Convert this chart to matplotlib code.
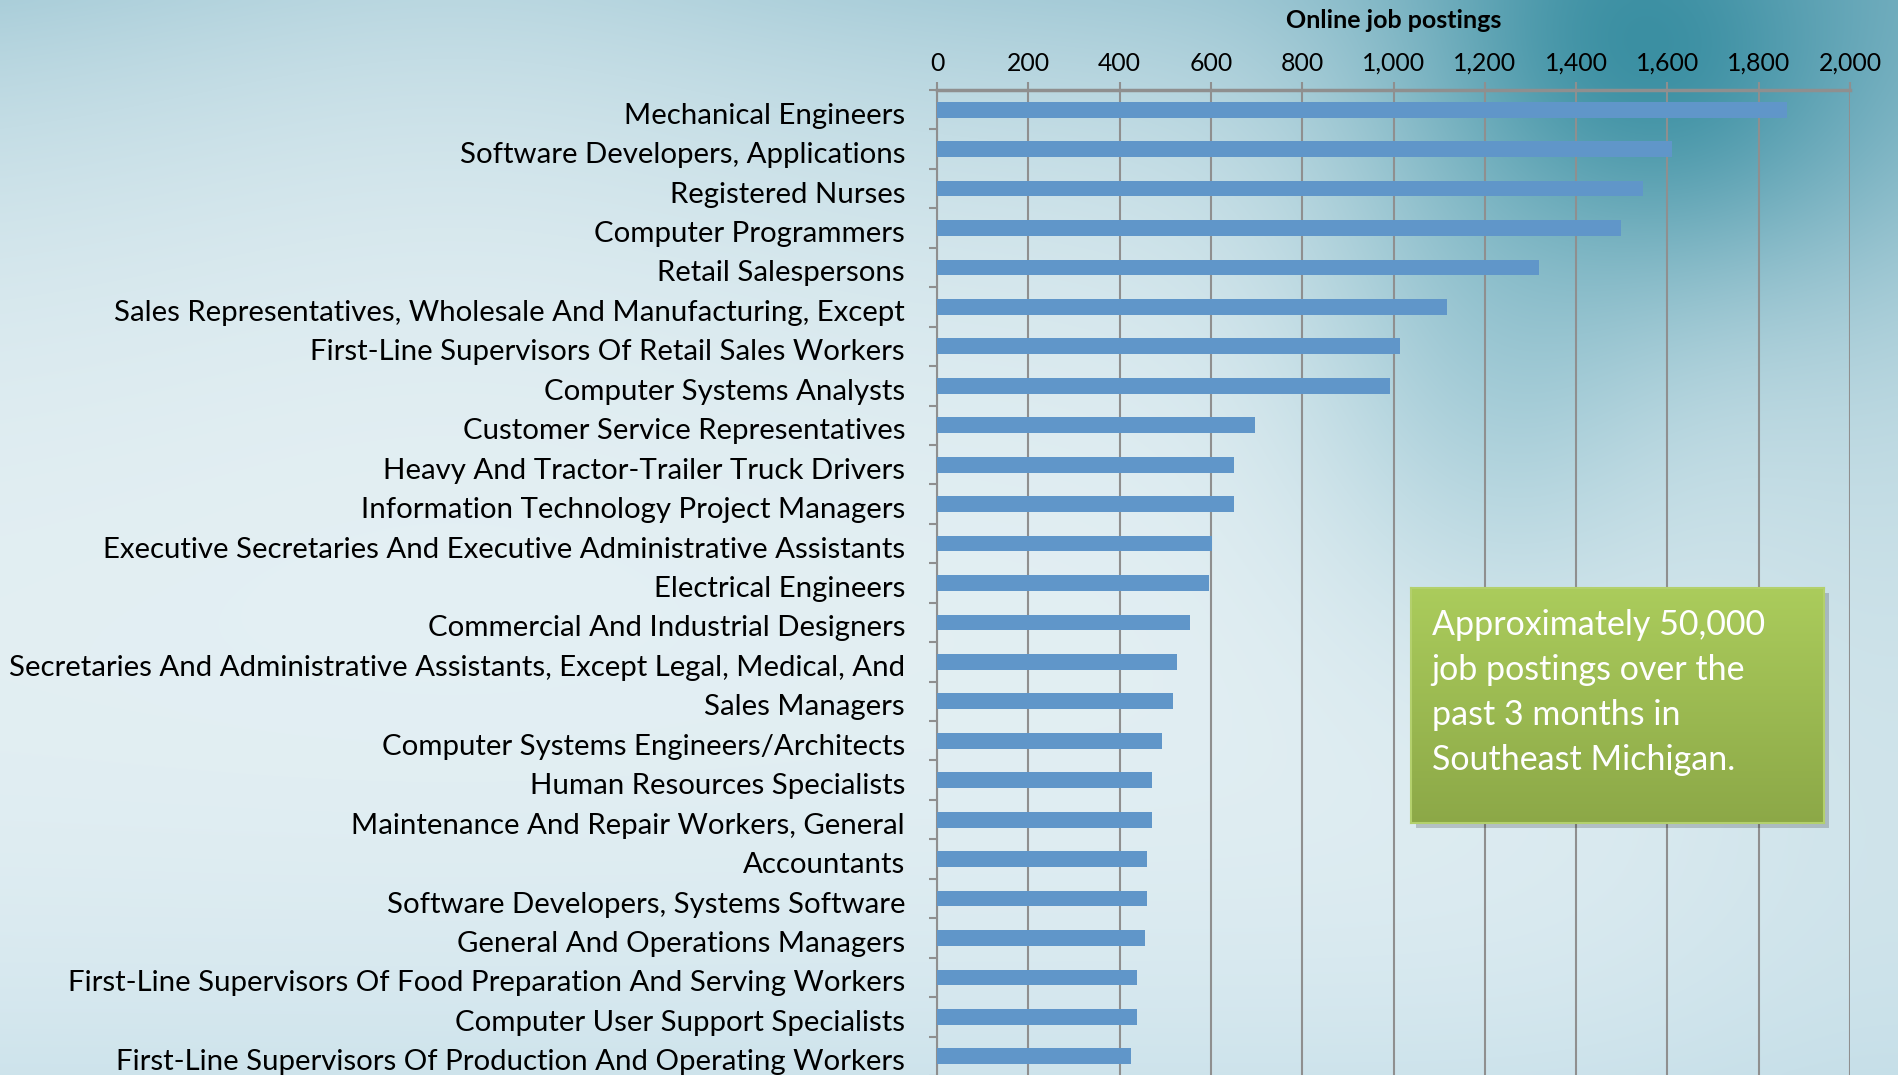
import numpy as np
import matplotlib.pyplot as plt
from matplotlib.patches import Rectangle
from matplotlib.ticker import FuncFormatter
from matplotlib.transforms import ScaledTranslation

occupations = [
    "Mechanical Engineers",
    "Software Developers, Applications",
    "Registered Nurses",
    "Computer Programmers",
    "Retail Salespersons",
    "Sales Representatives, Wholesale And Manufacturing, Except",
    "First-Line Supervisors Of Retail Sales Workers",
    "Computer Systems Analysts",
    "Customer Service Representatives",
    "Heavy And Tractor-Trailer Truck Drivers",
    "Information Technology Project Managers",
    "Executive Secretaries And Executive Administrative Assistants",
    "Electrical Engineers",
    "Commercial And Industrial Designers",
    "Secretaries And Administrative Assistants, Except Legal, Medical, And",
    "Sales Managers",
    "Computer Systems Engineers/Architects",
    "Human Resources Specialists",
    "Maintenance And Repair Workers, General",
    "Accountants",
    "Software Developers, Systems Software",
    "General And Operations Managers",
    "First-Line Supervisors Of Food Preparation And Serving Workers",
    "Computer User Support Specialists",
    "First-Line Supervisors Of Production And Operating Workers",
]
postings = [1863, 1611, 1547, 1498, 1319, 1118, 1015, 993, 696, 651, 650, 602,
            596, 555, 525, 518, 492, 470, 470, 461, 459, 455, 438, 438, 424]
x_ticks = [0, 200, 400, 600, 800, 1000, 1200, 1400, 1600, 1800, 2000]
note = "Approximately 50,000\njob postings over the\npast 3 months in\nSoutheast Michigan."

W, H = 1898, 1075
plt.rcParams['font.family'] = ['Lato', 'DejaVu Sans']
fig = plt.figure(figsize=(W / 100, H / 100), dpi=100)

# soft blue/teal background
gy, gx = np.mgrid[0:H:4, 0:W:4].astype(float)
img = np.ones(gx.shape + (3,)) * np.array([0.93, 0.96, 0.97])


def blend(img, weight, color):
    w = np.clip(weight, 0, 1)[..., None]
    return img * (1 - w) + np.array(color) * w


img = blend(img, 0.75 * np.exp(-gy / 260) * (1 - 0.3 * np.exp(-((gx - 450) / 400) ** 2)), (0.55, 0.74, 0.80))
img = blend(img, 0.55 * np.exp(-((gx - 1500) / 200) ** 2 - ((gy - 330) / 280) ** 2), (0.50, 0.72, 0.78))
img = blend(img, 0.9 * np.exp(-((gx - 1680) / 260) ** 2 - ((gy - 40) / 230) ** 2), (0.12, 0.50, 0.58))
img = blend(img, 0.5 * np.exp(-((gx - W) / 250) ** 2) * np.exp(-gy / 700), (0.45, 0.68, 0.75))
img = blend(img, 0.45 * np.exp(-(H - gy) / 260), (0.66, 0.81, 0.87))
bg = fig.add_axes([0, 0, 1, 1], zorder=0)
bg.imshow(img, aspect='auto', extent=[0, W, H, 0], interpolation='bicubic')
bg.axis('off')

# chart area
top, step = 90, 39.44
ax = fig.add_axes([937 / W, 1 - (top + 25 * step) / H, 913 / W, 25 * step / H], zorder=1)
ax.patch.set_alpha(0)
y = np.arange(len(occupations))
ax.barh(y, postings, height=0.4, color='#6096C9', zorder=3)
ax.set_ylim(len(occupations) - 0.5, -0.5)
ax.set_xlim(0, 2000)

grey = '#8F8F8F'
ax.set_xticks(x_ticks)
ax.xaxis.set_major_formatter(FuncFormatter(lambda v, p: f"{int(v):,}"))
ax.xaxis.tick_top()
ax.xaxis.set_label_position('top')
ax.set_xlabel('Online job postings', fontsize=18, fontweight='bold', labelpad=17)
ax.tick_params(axis='x', length=6, width=1.5, color=grey, labelsize=17.8, pad=5)
ax.grid(axis='x', color=grey, linewidth=1.5, zorder=1)

ax.set_yticks(y)
ax.set_yticklabels(occupations, fontsize=21.2)
ax.tick_params(axis='y', which='major', length=0, pad=23)
ax.set_yticks(np.arange(-0.5, len(occupations) + 0.5), minor=True)
ax.tick_params(axis='y', which='minor', length=6, width=1.5, color=grey)
shift = ScaledTranslation(0, -0.035, fig.dpi_scale_trans)
for lbl in ax.get_yticklabels():
    lbl.set_transform(lbl.get_transform() + shift)

for side in ['right', 'bottom']:
    ax.spines[side].set_visible(False)
ax.spines['left'].set_color(grey)
ax.spines['left'].set_linewidth(1.5)
ax.spines['top'].set_color(grey)
ax.spines['top'].set_linewidth(2.5)

# green callout box
bx0, by0, bw, bh = 1411, 588, 413, 235
fig.patches.append(Rectangle((bx0 + 5, H - by0 - bh - 5), bw, bh, transform=None,
                             facecolor='#000000', alpha=0.18, zorder=4))
box = fig.add_axes([bx0 / W, 1 - (by0 + bh) / H, bw / W, bh / H], zorder=5)
grad = np.linspace(0, 1, 100)[:, None, None]
box.imshow(np.array([0.67, 0.80, 0.36]) * (1 - grad) + np.array([0.55, 0.66, 0.28]) * grad,
           aspect='auto', extent=[0, 1, 0, 1])
box.set_xticks([])
box.set_yticks([])
for s in box.spines.values():
    s.set_color('#B3D06C')
    s.set_linewidth(1.5)
box.text(0.05, 0.91, note, transform=box.transAxes, color='white', fontsize=24.5,
         va='top', ha='left', linespacing=1.5)

fig.savefig('out.png', dpi=100)
